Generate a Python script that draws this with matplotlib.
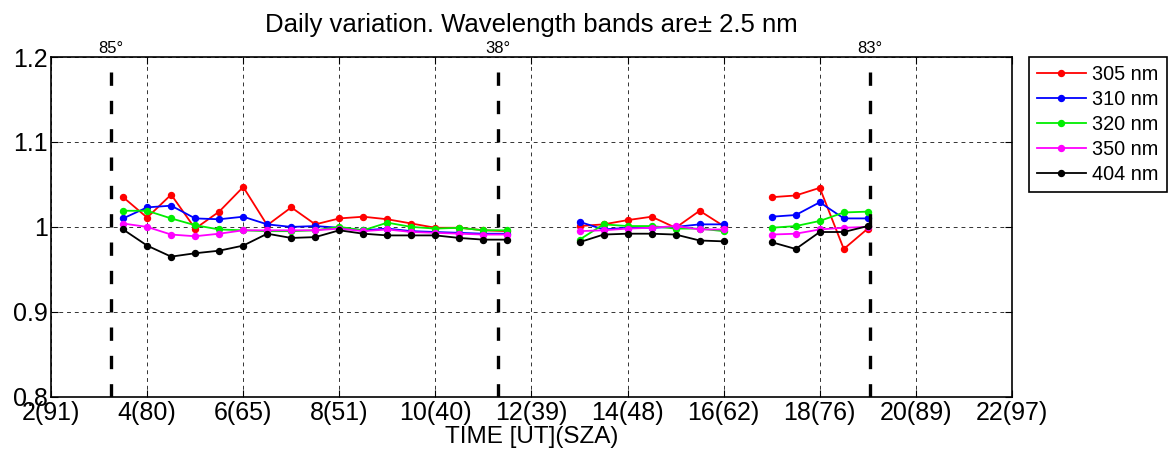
#!/usr/bin/env python3

import numpy as np
import matplotlib
matplotlib.use("Agg")
import matplotlib.pyplot as plt


nan = np.nan

# time of day [UT], half-hour steps, NaN where no measurement
times = [3.5, 4.0, 4.5, 5.0, 5.5, 6.0, 6.5, 7.0, 7.5, 8.0, 8.5, 9.0, 9.5,
         10.0, 10.5, 11.0, 11.5, 12.0, 12.5, 13.0, 13.5, 14.0, 14.5, 15.0,
         15.5, 16.0, 16.5, 17.0, 17.5, 18.0, 18.5, 19.0]

r305 = [1.035, 1.011, 1.038, 0.998, 1.018, 1.047, 1.002, 1.023, 1.003, 1.010,
        1.012, 1.009, 1.004, 0.999, 0.999, 0.996, 0.995, nan, nan,
        1.001, 1.003, 1.008, 1.012, 0.999, 1.019, 1.001, nan,
        1.035, 1.037, 1.046, 0.974, 0.998]
r310 = [1.010, 1.023, 1.025, 1.010, 1.009, 1.012, 1.003, 1.000, 1.001, 0.999,
        0.996, 0.998, 0.995, 0.994, 0.993, 0.992, 0.992, nan, nan,
        1.006, 0.997, 0.999, 0.999, 1.000, 1.003, 1.003, nan,
        1.012, 1.014, 1.029, 1.010, 1.010]
r320 = [1.019, 1.019, 1.010, 1.002, 0.997, 0.996, 0.995, 0.995, 0.996, 1.000,
        0.996, 1.005, 1.000, 0.998, 0.999, 0.996, 0.996, nan, nan,
        0.985, 1.003, 1.001, 1.001, 0.998, 0.998, 0.995, nan,
        0.999, 1.001, 1.007, 1.017, 1.018]
r350 = [1.004, 1.000, 0.991, 0.989, 0.992, 0.996, 0.996, 0.996, 0.996, 0.998,
        0.995, 0.997, 0.994, 0.993, 0.992, 0.991, 0.991, nan, nan,
        0.995, 0.996, 0.998, 0.999, 1.001, 0.997, 0.997, nan,
        0.991, 0.992, 0.997, 0.999, 1.000]
r404 = [0.997, 0.978, 0.965, 0.969, 0.972, 0.978, 0.992, 0.987, 0.988, 0.996,
        0.992, 0.990, 0.990, 0.990, 0.987, 0.985, 0.985, nan, nan,
        0.982, 0.991, 0.992, 0.992, 0.991, 0.984, 0.983, nan,
        0.982, 0.974, 0.994, 0.994, 1.001]

series_names = ["305 nm", "310 nm", "320 nm", "350 nm", "404 nm"]
series_colors = ["#ff0000", "#0000ff", "#00ee00", "#ff00ff", "#000000"]

xtick_pos = [2, 4, 6, 8, 10, 12, 14, 16, 18, 20, 22]
xtick_labels = ["2(91)", "4(80)", "6(65)", "8(51)", "10(40)", "12(39)",
                "14(48)", "16(62)", "18(76)", "20(89)", "22(97)"]
ytick_pos = [0.8, 0.9, 1.0, 1.1, 1.2]
ytick_labels = ["0.8", "0.9", "1", "1.1", "1.2"]

# solar zenith angle markers
sza_times = [3.25, 11.3, 19.05]
sza_labels = ["85°", "38°", "83°"]


plt.rcParams["font.family"] = ["Liberation Sans", "DejaVu Sans"]

fig = plt.figure(figsize=(11.73, 4.54), dpi=100)
ax = fig.add_axes([0.0435, 0.126, 0.8192, 0.7484])

for vals, name, color in zip([r305, r310, r320, r350, r404], series_names, series_colors):
    ax.plot(times, vals, "-o", color=color, lw=1.3, ms=4.3, label=name)

for t, lab in zip(sza_times, sza_labels):
    ax.axvline(t, color="black", lw=2.4, dashes=(4, 4.5), zorder=3)
    ax.text(t, 1.201, lab, ha="center", va="bottom", fontsize=12)

ax.set_xlim(2, 22)
ax.set_ylim(0.8, 1.2)
ax.set_xticks(xtick_pos)
ax.set_xticklabels(xtick_labels, fontsize=18)
ax.set_yticks(ytick_pos)
ax.set_yticklabels(ytick_labels, fontsize=18)
ax.tick_params(direction="in", length=5, top=True, right=True)
ax.tick_params(axis="x", pad=3)
ax.tick_params(axis="y", pad=2)
ax.grid(True, color="black", lw=0.7, ls=(0, (4, 4)), alpha=0.8)
for sp in ax.spines.values():
    sp.set_linewidth(1.2)

ax.set_xlabel("TIME [UT](SZA)", fontsize=17.5, labelpad=1)
ax.set_title("Daily variation. Wavelength bands are± 2.5 nm", fontsize=18.5, pad=18)

leg = fig.legend(loc="upper left", bbox_to_anchor=(0.877, 0.8744), fontsize=14.3,
                 handlelength=2.5, labelspacing=0.3, borderaxespad=0,
                 handletextpad=0.3, borderpad=0.4, fancybox=False,
                 edgecolor="black", framealpha=1, markerscale=1)
leg.get_frame().set_linewidth(1.2)

fig.savefig("out.png", dpi=100)
